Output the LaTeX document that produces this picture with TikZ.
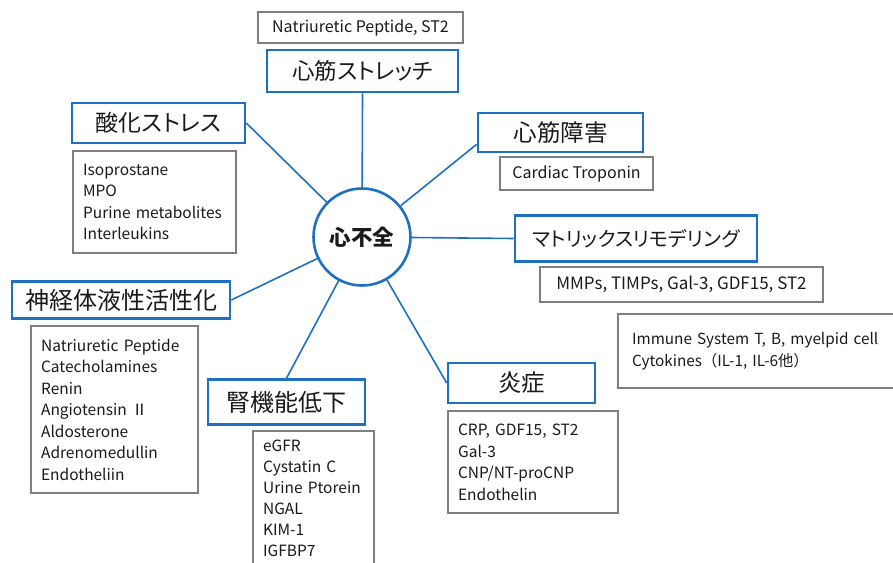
\documentclass[tikz,border=0pt]{standalone}
\usepackage{fontspec}
\setmainfont{Noto Sans CJK JP}
\newfontfamily\jph{Noto Sans CJK JP}[RawFeature={+palt}]
\definecolor{myblue}{HTML}{1F70C1}
\definecolor{mygray}{HTML}{7F7F7F}
\definecolor{ink}{HTML}{1A1A1A}
\newcommand{\hsz}[1]{\fontsize{#1}{#1}\selectfont}
\begin{document}
\begin{tikzpicture}[x=1pt,y=-1pt,
  bluebox/.style={draw=myblue, line width=2.6pt, fill=white, text=ink, font=\jph, inner sep=0pt},
  grayone/.style={draw=mygray, line width=2.2pt, fill=white, text=ink, inner sep=0pt},
  graybox/.style={draw=mygray, line width=2.2pt, fill=white, text=ink, font=\fontsize{15.5}{21.5}\selectfont, align=left, inner xsep=10pt, inner ysep=0pt, anchor=north west},
  link/.style={draw=myblue, line width=1.6pt}]
\clip (0,0) rectangle (893,562);
\fill[white] (0,0) rectangle (893,562);

\node[circle, draw=myblue, line width=2.6pt, minimum size=97pt, inner sep=0pt, fill=white, text=ink, font=\bfseries\fontsize{21.5}{24}\selectfont] (hf) at (362,237) {心不全};

\node[bluebox, minimum width=191pt, minimum height=42pt] (stretch) at (362.5,71) {\hsz{22.5}心筋ストレッチ};
\node[bluebox, minimum width=173pt, minimum height=40pt] (oxid) at (158.5,123) {\hsz{23}酸化ストレス};
\node[bluebox, minimum width=218pt, minimum height=37pt] (neuro) at (121,300) {\hsz{24}神経体液性活性化};
\node[bluebox, minimum width=157pt, minimum height=45pt] (renal) at (286.5,402) {\hsz{24}腎機能低下};
\node[bluebox, minimum width=147pt, minimum height=40pt] (inflam) at (521.5,383) {\hsz{23.5}炎症};
\node[bluebox, minimum width=165pt, minimum height=39pt] (cardiac) at (560.5,132.5) {\hsz{23.5}心筋障害};
\node[bluebox, minimum width=242pt, minimum height=46pt] (matrix) at (636,238.5) {\hsz{20}マトリックスリモデリング};

\node[grayone, minimum width=205pt, minimum height=31pt, font=\hsz{16}] (np) at (360.5,27.5) {Natriuretic Peptide, ST2};
\node[grayone, minimum width=153pt, minimum height=33pt, font=\hsz{16}] (trop) at (576.5,173.5) {Cardiac Troponin};
\node[grayone, minimum width=283pt, minimum height=35pt, font=\hsz{17}] (mmps) at (681.5,284.5) {MMPs, TIMPs, Gal-3, GDF15, ST2};

\node[graybox, text width=143pt, minimum height=102pt] (iso) at (72,150) {Isoprostane\\MPO\\Purine metabolites\\Interleukins};
\node[graybox, text width=147pt, minimum height=167pt] (neurolist) at (30,325) {Natriuretic Peptide\\Catecholamines\\Renin\\Angiotensin Ⅱ\\Aldosterone\\Adrenomedullin\\Endotheliin};
\node[graybox, text width=101pt, inner ysep=9pt, font=\fontsize{15.5}{21}\selectfont] (renallist) at (252,430) {eGFR\\Cystatin C\\Urine Ptorein\\NGAL\\KIM-1\\IGFBP7};
\node[graybox, text width=150pt, minimum height=102pt] (inflamlist) at (447,410) {CRP, GDF15, ST2\\Gal-3\\CNP/NT-proCNP\\Endothelin};
\node[graybox, text width=300pt, minimum height=74pt, inner xsep=14pt, font=\fontsize{15.3}{22}\selectfont] (immune) at (617,313) {Immune System T, B, myelpid cell\\Cytokines（IL-1, IL-6他）};

\draw[link] (hf) -- (stretch.south);
\draw[link] (hf) -- (oxid.east);
\draw[link] (hf) -- (neuro.east);
\draw[link] (hf) -- (renal.north);
\draw[link] (hf) -- (inflam.west);
\draw[link] (hf) -- (cardiac.188);
\draw[link] (hf) -- (matrix.west);
\end{tikzpicture}
\end{document}
